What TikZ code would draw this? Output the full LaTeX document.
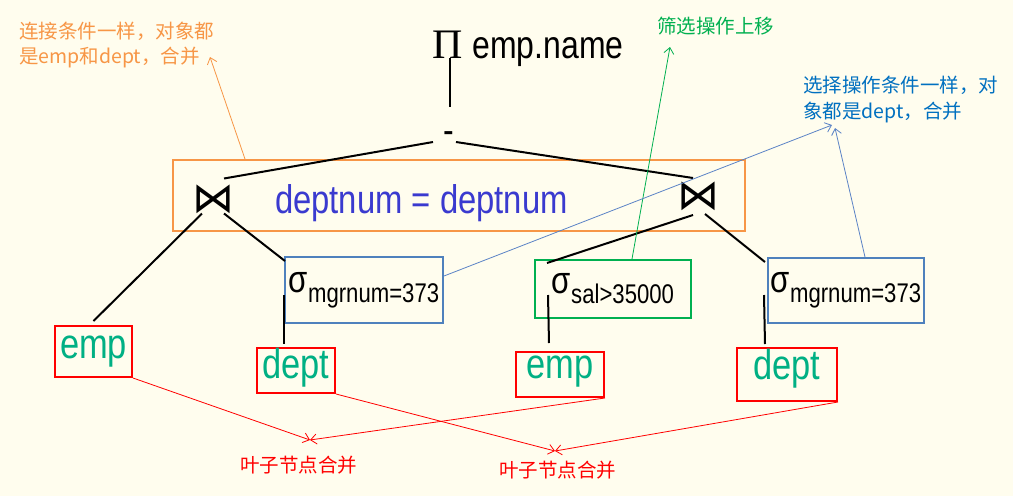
\documentclass[tikz,border=0pt]{standalone}
\usepackage{fontspec}
\usepackage{graphicx}
\usetikzlibrary{calc,arrows.meta}
\setmainfont{Liberation Sans}
\newfontfamily\condfont[FakeStretch=0.82]{Liberation Sans}
\newfontfamily\piserif{Liberation Serif}
\newfontfamily\dvfont{DejaVu Sans}
\newfontfamily\cjk{Noto Sans CJK SC}
\definecolor{bg}{HTML}{FFFDEE}
\definecolor{oran}{HTML}{F79646}
\definecolor{teal}{HTML}{00B084}
\definecolor{condblue}{HTML}{3A3ACF}
\definecolor{grn}{HTML}{00B050}
\definecolor{annblue}{HTML}{0070C0}
\definecolor{boxblue}{HTML}{4F81BD}
\definecolor{lineblue}{HTML}{5B83C6}
\definecolor{rd}{HTML}{FF0000}
\newcommand{\mysig}[1]{{\condfont\fontsize{38}{38}\selectfont σ}{\raisebox{-10pt}{\condfont\fontsize{27}{27}\selectfont #1}}}
\begin{document}
\begin{tikzpicture}[x=1pt,y=-1pt,
  tline/.style={draw=black,line width=2pt},
  joinnode/.style={inner sep=0pt,font=\dvfont\fontsize{42}{42}\selectfont},
  sbox/.style={draw=boxblue,line width=2pt,inner sep=0pt,minimum width=158pt,minimum height=66pt},
  gbox/.style={draw=grn,line width=2pt,inner sep=0pt,minimum width=156pt,minimum height=58pt},
  leaf/.style={draw=rd,line width=2pt,inner sep=0pt,text=teal,font=\condfont\fontsize{42}{42}\selectfont},
  ann/.style={inner sep=0pt,align=left,anchor=north west},
  annarrow/.style={line width=0.8pt,-{Straight Barb[length=6pt,width=10pt]}},
]
\fill[bg] (0,0) rectangle (1013,496);
\useasboundingbox (0,0) rectangle (1013,496);

% title
\node[anchor=base west,inner sep=0pt] (pi) at (432,58)
  {{\piserif\fontsize{42}{42}\selectfont Π}\hspace{10pt}{\condfont\fontsize{39}{39}\selectfont emp.name}};
\node[anchor=base,inner sep=0pt,font=\condfont\fontsize{39}{39}\selectfont] (minus) at (449,143) {-};

% join box
\node[draw=oran,line width=2pt,minimum width=572pt,minimum height=71pt,inner sep=0pt] (obox) at (459,195.5) {};
\node[anchor=base,inner sep=0pt,text=condblue,font=\condfont\fontsize{40}{40}\selectfont] (cond) at (421.5,213) {deptnum = deptnum};
\node[joinnode] (j1) at (213,199.5) {⋈};
\node[joinnode] (j2) at (698.5,196) {⋈};

% selections
\node[sbox] (b1) at (364,290) {\mysig{mgrnum=373}};
\node[gbox] (g1) at (613,289) {\mysig{sal>35000}};
\node[sbox,minimum width=156pt,minimum height=65pt] (b3) at (846,290.5) {\mysig{mgrnum=373}};

% leaves
\node[leaf,minimum width=77pt,minimum height=51pt] (e1) at (93.5,351.5) {emp};
\node[leaf,minimum width=78pt,minimum height=45pt] (d1) at (296,370.5) {\raisebox{3pt}[\height][\depth]{dept}};
\node[leaf,minimum width=88pt,minimum height=45pt] (e2) at (560,374.5) {\raisebox{3pt}[\height][\depth]{emp}\hspace{-6pt}};
\node[leaf,minimum width=100pt,minimum height=53pt] (d2) at (787,374.5) {\raisebox{6pt}[\height][\depth]{dept}\hspace{17pt}};

% tree edges
\draw[tline] ($(pi.base west)+(18,0)$) -- ($(minus.base)+(1,-36)$);
\draw[tline] ($(minus.base)+(-16,-1)$) -- ($(j1.center)+(11,-21)$);
\draw[tline] ($(minus.base)+(7,-1)$) -- ($(j2.center)+(-5.5,-18)$);
\draw[tline] ($(j1.center)+(-11,14)$) -- ($(e1.north)+(0,-4)$);
\draw[tline] ($(j1.center)+(11,14)$) -- ($(b1.north west)+(1,5)$);
\draw[tline] ($(j2.center)+(-5.5,19)$) -- ($(g1.north west)+(13,4)$);
\draw[tline] ($(j2.center)+(6.5,18)$) -- ($(b3.north west)+(-2,5)$);
\draw[tline] ($(b1.west)+(0,5)$) -- ($(b1.west |- d1.north)+(0,-3)$);
\draw[tline] ($(g1.west)+(14,6)$) -- ($(e2.north)+(-11,-8)$);
\draw[tline] ($(b3.west)+(-3,4.5)$) -- ($(d2.north)+(-22,-3)$);

% annotations
\node[ann,text=oran,font=\cjk\fontsize{19.5}{25}\selectfont] (a1) at (19,22) {连接条件一样，对象都\\是emp和dept，合并};
\node[ann,text=grn,font=\cjk\fontsize{19.5}{25}\selectfont] (a2) at (657,17) {筛选操作上移};
\node[ann,text=annblue,font=\cjk\fontsize{19.5}{26}\selectfont] (a3) at (803,76) {选择操作条件一样，对\\象都是dept，合并};
\node[inner sep=0pt,anchor=north,text=rd,font=\cjk\fontsize{19.5}{25}\selectfont] (l1) at (298.5,456) {叶子节点合并};
\node[inner sep=0pt,anchor=north,text=rd,font=\cjk\fontsize{19.5}{25}\selectfont] (l2) at (557.5,461) {叶子节点合并};

\coordinate (t1) at (210,57);
\coordinate (t2) at (670,47);
\coordinate (t3) at (832,125);
\coordinate (t4) at (835,128);
\coordinate (m1) at (310,440);
\coordinate (m2) at (555,451);

\draw[annarrow,oran] ($(obox.north west)+(73,0)$) -- (t1);
\draw[annarrow,grn] ($(g1.north)+(19,0)$) -- (t2);
\draw[annarrow,lineblue] ($(b1.east)+(0,-14)$) -- (t3);
\draw[annarrow,lineblue] ($(b3.north)+(19,0)$) -- (t4);
\draw[annarrow,rd] (e1.south east) -- (m1);
\draw[annarrow,rd] (e2.south east) -- (m1);
\draw[annarrow,rd] (d1.south east) -- (m2);
\draw[annarrow,rd] (d2.south east) -- (m2);
\end{tikzpicture}
\end{document}
